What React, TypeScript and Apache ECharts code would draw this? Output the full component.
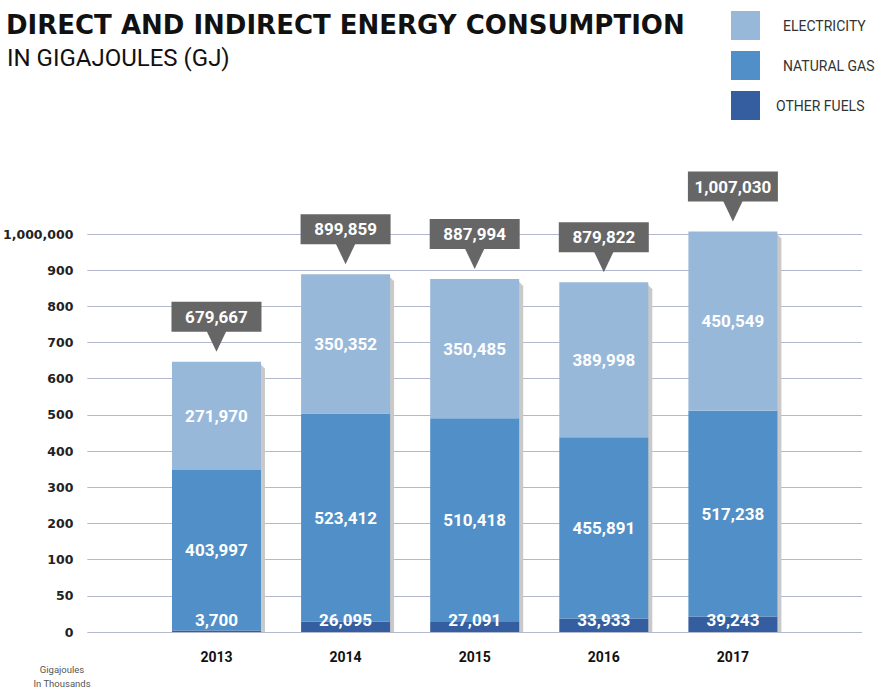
import React, { useEffect, useRef } from 'react';
import * as echarts from 'echarts';

const years = ['2013', '2014', '2015', '2016', '2017'];
const otherFuels = [3700, 26095, 27091, 33933, 39243];
const naturalGas = [403997, 523412, 510418, 455891, 517238];
const electricity = [271970, 350352, 350485, 389998, 450549];
const totals = [679667, 899859, 887994, 879822, 1007030];
const yTickLabels = ['0', '50', '100', '200', '300', '400', '500', '600', '700', '800', '900', '1,000,000'];

const TICK_STEP = 91000;
const BAR_W = 89;
const fmt = (v: number) => Number(v).toLocaleString('en-US');

const categories = ['', ...years, ''];
const pad = (arr: number[]) => ['-', ...arr, '-'];

export default function App() {
  const ref = useRef<HTMLDivElement>(null);

  useEffect(() => {
    if (!ref.current) return;
    const chart = echarts.init(ref.current, null, { renderer: 'svg' });

    const segLabel = {
      show: true,
      position: 'inside',
      color: '#ffffff',
      fontFamily: 'Roboto',
      fontWeight: 'bold',
      fontSize: 17,
      formatter: (p: any) => fmt(p.value),
    };

    const totalPoints = totals.map((t, i) => [i + 1, t]);

    chart.setOption({
      animation: false,
      title: [
        {
          text: 'DIRECT AND INDIRECT ENERGY CONSUMPTION',
          left: 6,
          top: 12,
          padding: 0,
          textStyle: { fontFamily: 'DejaVu Sans', fontWeight: 'bold', fontSize: 26, color: '#111111' },
        },
        {
          text: 'IN GIGAJOULES (GJ)',
          left: 7,
          top: 46,
          padding: 0,
          textStyle: { fontFamily: 'Roboto', fontWeight: 'normal', fontSize: 24, color: '#111111' },
        },
      ],
      legend: {
        orient: 'vertical',
        left: 731,
        top: 11,
        padding: 0,
        itemWidth: 29,
        itemHeight: 29,
        itemGap: 11,
        icon: 'rect',
        data: ['ELECTRICITY', 'NATURAL GAS', 'OTHER FUELS'],
        formatter: (name: string) => (name === 'OTHER FUELS' ? `{s|${name}}` : `{n|${name}}`),
        textStyle: {
          fontFamily: 'Roboto',
          fontSize: 14,
          color: '#333333',
          rich: {
            n: { fontFamily: 'Roboto', fontSize: 14, color: '#333333', padding: [0, 0, 0, 18] },
            s: { fontFamily: 'Roboto', fontSize: 14, color: '#333333', padding: [0, 0, 0, 11] },
          },
        },
      },
      grid: { left: 86, right: 16, top: 234, bottom: 60 },
      xAxis: {
        type: 'category',
        data: categories,
        boundaryGap: false,
        axisLine: { show: false },
        axisTick: { show: false },
        splitLine: { show: false },
        axisLabel: {
          margin: 18,
          fontFamily: 'Roboto',
          fontWeight: 'bold',
          fontSize: 14,
          color: '#111111',
        },
      },
      yAxis: {
        type: 'value',
        min: 0,
        max: TICK_STEP * (yTickLabels.length - 1),
        interval: TICK_STEP,
        axisLine: { show: false },
        axisTick: { show: false },
        splitLine: { show: true, lineStyle: { color: '#b4b8cc', width: 1 } },
        axisLabel: {
          margin: 14,
          fontFamily: 'DejaVu Sans',
          fontWeight: 'bold',
          fontSize: 12.5,
          color: '#222222',
          formatter: (v: number) => yTickLabels[Math.round(v / TICK_STEP)] ?? '',
        },
      },
      graphic: [
        {
          type: 'text',
          x: 62,
          y: 662,
          style: {
            text: 'Gigajoules\nIn Thousands',
            fill: '#555555',
            font: '9.5px Roboto',
            textAlign: 'center',
            textVerticalAlign: 'top',
            lineHeight: 14,
          },
        },
      ],
      series: [
        {
          name: 'shadow',
          type: 'custom',
          z: 1,
          silent: true,
          data: totalPoints,
          encode: { x: 0, y: 1 },
          renderItem: (params: any, api: any) => {
            const top = api.coord([api.value(0), api.value(1)]);
            const bot = api.coord([api.value(0), 0]);
            const xr = top[0] + BAR_W / 2;
            return {
              type: 'polygon',
              shape: {
                points: [
                  [xr - 1, top[1] + 2],
                  [xr + 4, top[1] + 7],
                  [xr + 4, bot[1]],
                  [xr - 1, bot[1]],
                ],
              },
              style: { fill: '#c9c9c9' },
            };
          },
        },
        {
          name: 'OTHER FUELS',
          type: 'bar',
          stack: 'energy',
          barWidth: BAR_W,
          clip: false,
          z: 2,
          itemStyle: { color: '#355ea0' },
          label: { ...segLabel, position: 'insideBottom', distance: 4, lineHeight: 16 },
          data: pad(otherFuels),
        },
        {
          name: 'NATURAL GAS',
          type: 'bar',
          stack: 'energy',
          barWidth: BAR_W,
          clip: false,
          z: 2,
          itemStyle: { color: '#508fc7' },
          label: segLabel,
          data: pad(naturalGas),
        },
        {
          name: 'ELECTRICITY',
          type: 'bar',
          stack: 'energy',
          barWidth: BAR_W,
          clip: false,
          z: 2,
          itemStyle: { color: '#98b8da' },
          label: segLabel,
          data: pad(electricity),
        },
        {
          name: 'total',
          type: 'custom',
          z: 3,
          silent: true,
          data: totalPoints,
          encode: { x: 0, y: 1 },
          renderItem: (params: any, api: any) => {
            const pt = api.coord([api.value(0), api.value(1)]);
            const x = pt[0];
            const tipY = pt[1] - 10;
            const boxBottom = tipY - 20;
            const w = 90;
            const h = 30;
            return {
              type: 'group',
              children: [
                {
                  type: 'rect',
                  shape: { x: x - w / 2, y: boxBottom - h, width: w, height: h },
                  style: { fill: '#666666' },
                },
                {
                  type: 'polygon',
                  shape: { points: [[x - 10, boxBottom - 1], [x + 10, boxBottom - 1], [x, tipY]] },
                  style: { fill: '#666666' },
                },
                {
                  type: 'text',
                  x: x,
                  y: boxBottom - h / 2,
                  style: {
                    text: fmt(api.value(1)),
                    fill: '#ffffff',
                    font: 'bold 17px Roboto',
                    align: 'center',
                    verticalAlign: 'middle',
                  },
                },
              ],
            };
          },
        },
      ],
    });

    return () => chart.dispose();
  }, []);

  return <div ref={ref} style={{ width: 878, height: 692, position: 'absolute', left: 0, top: 0 }} />;
}
